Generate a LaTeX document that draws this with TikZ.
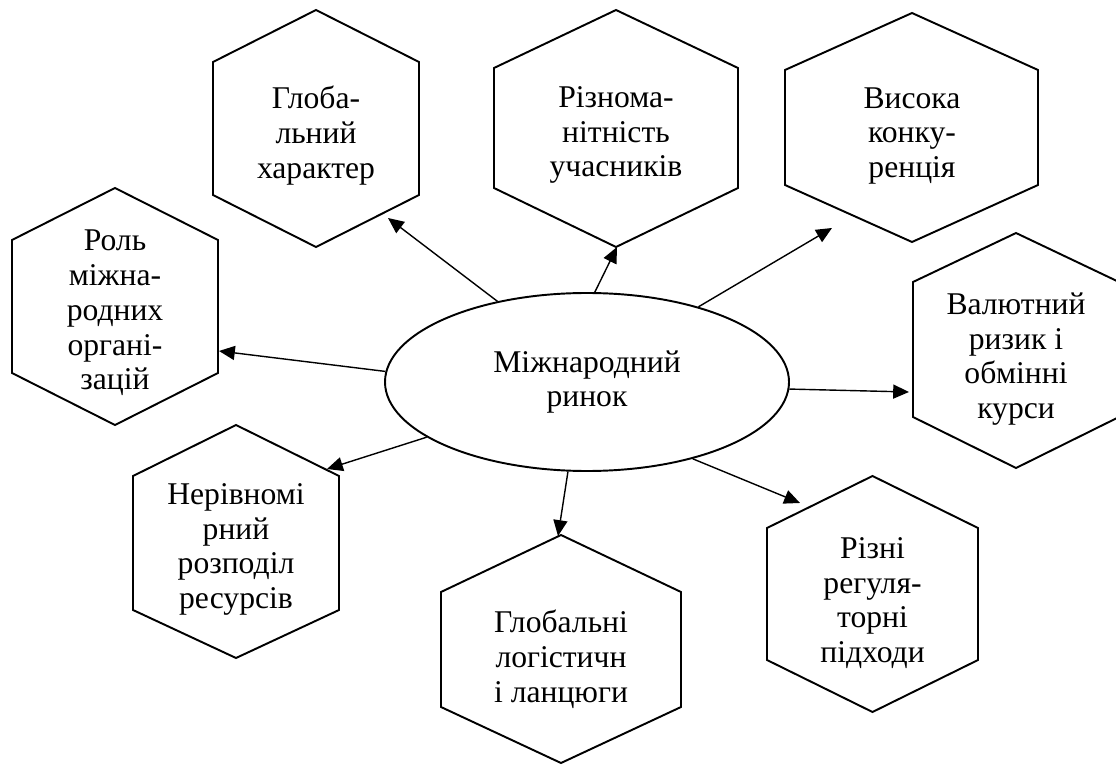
\documentclass[tikz,border=0pt]{standalone}
\usepackage{fontspec}
\setmainfont{Liberation Serif}
\usetikzlibrary{arrows.meta,shapes.geometric}

\begin{document}
\begin{tikzpicture}[scale=0.2]
\tikzstyle{every node}+=[inner sep=0pt]
\tikzstyle{lbl}=[align=center, font=\fontsize{18}{19.8}\selectfont]
\tikzstyle{hexline}=[black, line width=1.1pt, line join=miter]
\tikzstyle{arr}=[black, line width=0.8pt, -{Triangle[length=9pt,width=8pt]}]
\useasboundingbox (0,0) rectangle (111.6,-76.5);

\draw (58.7,-38.2) node [lbl, ellipse, draw, line width=1.1pt, minimum width=8.08cm, minimum height=3.56cm] (hub) {Міжнародний\\ринок};

\draw [hexline] (31.6,-1.0) -- (41.9,-6.2) -- (41.9,-19.5) -- (31.6,-24.7) -- (21.3,-19.5) -- (21.3,-6.2) -- cycle;
\draw (31.6,-13.55) node [lbl] (glob) {Глоба-\\льний\\характер};

\draw [hexline] (61.6,-1.0) -- (73.8,-6.8) -- (73.8,-18.8) -- (61.6,-24.7) -- (49.4,-18.8) -- (49.4,-6.8) -- cycle;
\draw (61.6,-13.5) node [lbl] (rizn) {Різнома-\\нітність\\учасників};

\draw [hexline] (91.2,-1.3) -- (103.8,-7.0) -- (103.8,-18.5) -- (91.2,-24.2) -- (78.5,-18.5) -- (78.5,-7.0) -- cycle;
\draw (91.2,-13.6) node [lbl] (konk) {Висока\\конку-\\ренція};

\draw [hexline] (11.5,-18.8) -- (21.8,-24.0) -- (21.8,-37.3) -- (11.5,-42.5) -- (1.2,-37.3) -- (1.2,-24.0) -- cycle;
\draw (11.5,-31.3) node [lbl] (orgs) {Роль\\міжна-\\родних\\органі-\\зацій};

\draw [hexline] (101.6,-23.3) -- (111.9,-28.2) -- (111.9,-41.7) -- (101.6,-46.8) -- (91.3,-41.7) -- (91.3,-28.2) -- cycle;
\draw (101.6,-35.9) node [lbl] (valut) {Валютний\\ризик і\\обмінні\\курси};

\draw [hexline] (23.6,-42.5) -- (33.9,-47.6) -- (33.9,-61.0) -- (23.6,-65.8) -- (13.3,-61.0) -- (13.3,-47.6) -- cycle;
\draw (23.6,-54.95) node [lbl] (resur) {Нерівномі\\рний\\розподіл\\ресурсів};

\draw [hexline] (56.1,-53.5) -- (68.1,-59.2) -- (68.1,-70.7) -- (56.1,-76.3) -- (44.1,-70.7) -- (44.1,-59.2) -- cycle;
\draw (56.1,-65.9) node [lbl] (logis) {Глобальні\\логістичн\\і ланцюги};

\draw [hexline] (87.25,-47.6) -- (97.8,-52.8) -- (97.8,-66.0) -- (87.25,-71.2) -- (76.7,-66.0) -- (76.7,-52.8) -- cycle;
\draw (87.25,-60.3) node [lbl] (regul) {Різні\\регуля-\\торні\\підходи};

\coordinate (glob-in) at (38.8,-21.8);
\coordinate (rizn-in) at (61.7,-24.7);
\coordinate (konk-in) at (83.2,-22.8);
\coordinate (orgs-in) at (21.9,-35.1);
\coordinate (valut-in) at (90.9,-39.2);
\coordinate (resur-in) at (32.7,-46.9);
\coordinate (logis-in) at (55.8,-53.6);
\coordinate (regul-in) at (80.0,-50.3);

\draw [arr] (hub.138) -- (glob-in);
\draw [arr] (hub.85) -- (rizn-in);
\draw [arr] (hub.34) -- (konk-in);
\draw [arr] (hub.177) -- (orgs-in);
\draw [arr] (hub.-2.5) -- (valut-in);
\draw [arr] (hub.-161) -- (resur-in);
\draw [arr] (hub.-102) -- (logis-in);
\draw [arr] (hub.-36) -- (regul-in);
\end{tikzpicture}
\end{document}
